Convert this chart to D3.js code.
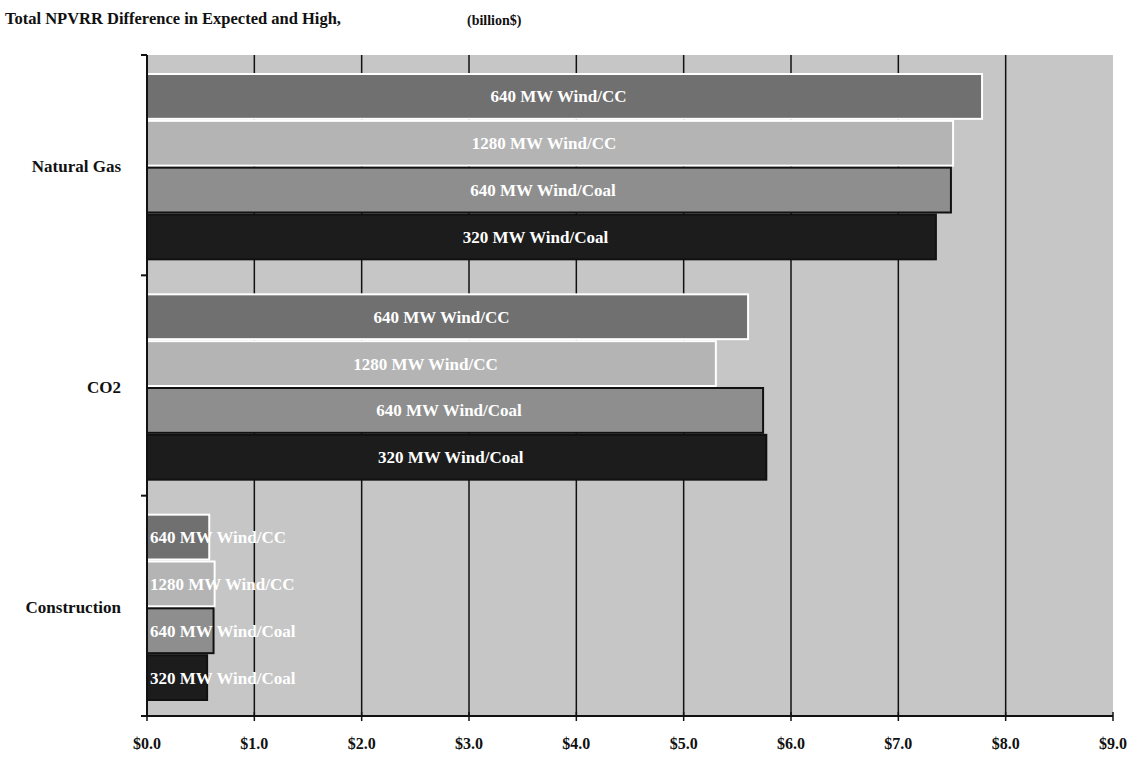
<!DOCTYPE html>
<html>
<head>
<meta charset="utf-8">
<script src="https://cdn.jsdelivr.net/npm/d3@7"></script>
<style>
  body { margin: 0; background: #fff; }
  text { font-family: "Liberation Serif", "Times New Roman", serif; font-weight: bold; }
</style>
</head>
<body>
<div id="chart"></div>
<script>
// ===== data =====
var categories = ["Natural Gas", "CO2", "Construction"];
var seriesNames = ["640 MW Wind/CC", "1280 MW Wind/CC", "640 MW Wind/Coal", "320 MW Wind/Coal"];
var windCC640   = [7.78, 5.60, 0.58];
var windCC1280  = [7.51, 5.30, 0.63];
var windCoal640 = [7.49, 5.74, 0.62];
var windCoal320 = [7.35, 5.77, 0.56];
var xTicks = [0, 1, 2, 3, 4, 5, 6, 7, 8, 9];
var xTickLabels = ["$0.0", "$1.0", "$2.0", "$3.0", "$4.0", "$5.0", "$6.0", "$7.0", "$8.0", "$9.0"];

var seriesValues = [windCC640, windCC1280, windCoal640, windCoal320];
var fills = ["#707070", "#b4b4b4", "#8e8e8e", "#1c1c1c"];
var strokes = ["#ffffff", "#ffffff", "#111111", "#111111"];

var svg = d3.select("#chart")
    .append("svg")
    .attr("width", 1131)
    .attr("height", 757)

// title
svg.append("text")
    .text("Total NPVRR Difference in Expected and High,")
    .attr("x", 5)
    .attr("y", 24)
    .attr("font-size", "16.5px")
    .attr("fill", "#111")
svg.append("text")
    .text("(billion$)")
    .attr("x", 467)
    .attr("y", 25)
    .attr("font-size", "14px")
    .attr("fill", "#111")

var plotL = 147, plotR = 1113, plotT = 55, plotB = 716;

var x = d3.scaleLinear().domain([0, 9]).range([plotL, plotR])
var yCat = d3.scaleBand().domain(categories).range([plotT, plotB])
var ySer = d3.scaleBand().domain(d3.range(seriesNames.length))
    .range([18, yCat.bandwidth() - 15])

// plot background
svg.append("rect")
    .attr("x", plotL)
    .attr("y", plotT)
    .attr("width", plotR - plotL)
    .attr("height", plotB - plotT)
    .attr("fill", "#c6c6c6")

// vertical grid lines
svg.selectAll(".grid")
    .data(xTicks.slice(1, -1))
    .enter()
    .append("line")
    .attr("x1", function(d){return x(d)})
    .attr("x2", function(d){return x(d)})
    .attr("y1", plotT)
    .attr("y2", plotB)
    .attr("stroke", "#111")
    .attr("stroke-width", 1.5)

// bars
categories.forEach(function(cat, ci){
    var g = svg.append("g").attr("transform", "translate(0," + yCat(cat) + ")")
    seriesValues.forEach(function(vals, si){
        var v = vals[ci]
        g.append("rect")
            .attr("x", x(0))
            .attr("y", ySer(si) + 1)
            .attr("width", x(v) - x(0))
            .attr("height", ySer.bandwidth() - 2)
            .attr("fill", fills[si])
            .attr("stroke", strokes[si])
            .attr("stroke-width", 2)
    })
    seriesValues.forEach(function(vals, si){
        var v = vals[ci]
        var t = g.append("text")
            .text(seriesNames[si])
            .attr("y", ySer(si) + ySer.bandwidth() / 2 + 6)
            .attr("font-size", "17px")
            .attr("fill", "#fff")
            .attr("text-anchor", "middle")
        var w = t.node().getComputedTextLength()
        var cx = Math.max((x(0) + x(v)) / 2 - 6, x(0) + 3 + w / 2)
        t.attr("x", cx)
    })
})

// left axis
svg.append("line")
    .attr("x1", plotL).attr("x2", plotL)
    .attr("y1", plotT).attr("y2", plotB)
    .attr("stroke", "#111")
    .attr("stroke-width", 2)
var catEdges = categories.map(function(c){return yCat(c)}).concat([plotB])
svg.selectAll(".ytick")
    .data(catEdges)
    .enter()
    .append("line")
    .attr("x1", plotL - 6).attr("x2", plotL)
    .attr("y1", function(d){return d}).attr("y2", function(d){return d})
    .attr("stroke", "#111")
    .attr("stroke-width", 2)

// category labels
svg.selectAll(".cat")
    .data(categories)
    .enter()
    .append("text")
    .text(function(d){return d})
    .attr("x", 121)
    .attr("y", function(d){return yCat(d) + yCat.bandwidth() / 2 + 7})
    .attr("text-anchor", "end")
    .attr("font-size", "17px")
    .attr("fill", "#111")

// bottom axis
svg.append("line")
    .attr("x1", plotL).attr("x2", plotR)
    .attr("y1", plotB).attr("y2", plotB)
    .attr("stroke", "#111")
    .attr("stroke-width", 2)
svg.selectAll(".xtick")
    .data(xTicks)
    .enter()
    .append("line")
    .attr("x1", function(d){return x(d)})
    .attr("x2", function(d){return x(d)})
    .attr("y1", plotB - 4)
    .attr("y2", plotB + 5)
    .attr("stroke", "#111")
    .attr("stroke-width", 1.5)
svg.selectAll(".xlab")
    .data(xTicks)
    .enter()
    .append("text")
    .text(function(d, i){return xTickLabels[i]})
    .attr("x", function(d){return x(d)})
    .attr("y", 749)
    .attr("text-anchor", "middle")
    .attr("font-size", "16px")
    .attr("fill", "#111")
</script>
</body>
</html>
